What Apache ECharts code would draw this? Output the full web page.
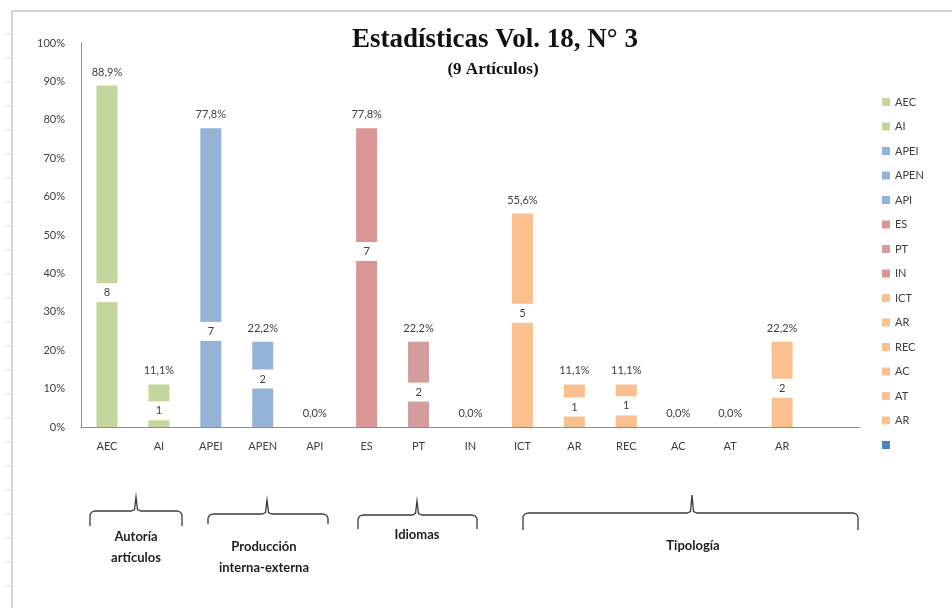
<!DOCTYPE html>
<html>
<head>
<meta charset="utf-8">
<script src="https://cdn.jsdelivr.net/npm/echarts@6/dist/echarts.min.js"></script>
<style>
  html, body { margin: 0; padding: 0; background: #fff; }
  #chart { width: 952px; height: 608px; }
</style>
</head>
<body>
<div id="chart"></div>
<script>
// categorias (la 15ª es la serie vacia de Excel)
var categories = ['AEC', 'AI', 'APEI', 'APEN', 'API', 'ES', 'PT', 'IN', 'ICT', 'AR', 'REC', 'AC', 'AT', 'AR', ''];
var percentages = [88.9, 11.1, 77.8, 22.2, 0.0, 77.8, 22.2, 0.0, 55.6, 11.1, 11.1, 0.0, 0.0, 22.2, null];
var counts = [8, 1, 7, 2, 0, 7, 2, 0, 5, 1, 1, 0, 0, 2, null];
// altura (en %) donde Excel dejo la etiqueta del numero de articulos
var countLabelAt = [35, 4.2, 24.9, 12.5, null, 45.7, 9.1, null, 29.6, 5.2, 5.5, null, null, 10.1, null];
var yTicks = [0, 10, 20, 30, 40, 50, 60, 70, 80, 90, 100];

var colors = ['#C3D69B', '#C3D69B', '#95B3D7', '#95B3D7', '#95B3D7', '#D99694', '#D59C9D', '#D99694',
              '#FAC090', '#FAC090', '#FAC090', '#FAC090', '#FAC090', '#FAC090', '#4F81BD'];

var chart = echarts.init(document.getElementById('chart'));
var txt = '#404040';
var font = 'Lato, "Open Sans", sans-serif';

// nombres unicos para la leyenda (hay dos "AR")
var names = [];
var seen = {};
for (var i = 0; i < categories.length; i++) {
  var n = categories[i] === '' ? ' ' : categories[i];
  while (seen[n]) { n = n + ' '; }
  seen[n] = true;
  names.push(n);
}

function pct(v) {
  return v.toFixed(1).replace('.', ',') + '%';
}

var series = [];
for (var i = 0; i < categories.length; i++) {
  var d = [];
  for (var j = 0; j < categories.length; j++) {
    d.push(j === i && percentages[i] !== null ? percentages[i] : '-');
  }
  series.push({
    name: names[i],
    type: 'bar',
    stack: 'all',
    barWidth: 21,
    itemStyle: { color: colors[i] },
    label: {
      show: true,
      position: 'top',
      distance: 8,
      color: txt,
      fontFamily: font,
      fontSize: 11,
      formatter: function (p) { return pct(p.value); }
    },
    data: d
  });
}

var countData = [];
for (var i = 0; i < counts.length; i++) {
  if (counts[i] > 0) countData.push({ value: [i, countLabelAt[i]], count: counts[i] });
}
series.push({
  name: 'conteo',
  type: 'scatter',
  symbolSize: 0,
  silent: true,
  z: 5,
  itemStyle: { opacity: 1 },
  label: {
    show: true,
    position: 'inside',
    color: txt,
    fontFamily: font,
    fontSize: 11,
    backgroundColor: '#ffffff',
    padding: [4, 5],
    width: 16,
    align: 'center',
    formatter: function (p) { return String(p.data.count); }
  },
  data: countData
});

// llaves de agrupacion bajo el eje
function brace(x0, x1, xc, yLine, yEnd, yPeak) {
  return {
    type: 'polyline',
    silent: true,
    shape: {
      points: [
        [x0, yEnd], [x0, yLine + 4], [x0 + 1.5, yLine + 1.2], [x0 + 5, yLine],
        [xc - 5, yLine], [xc - 1.5, yLine - 1.5], [xc, yPeak],
        [xc + 1.5, yLine - 1.5], [xc + 5, yLine],
        [x1 - 5, yLine], [x1 - 1.5, yLine + 1.2], [x1, yLine + 4], [x1, yEnd]
      ]
    },
    style: { stroke: '#3a3a3a', lineWidth: 1.3, fill: null }
  };
}
function groupText(x, y, text) {
  return {
    type: 'text',
    x: x, y: y,
    silent: true,
    style: {
      text: text, fill: '#1e1e1e', font: 'bold 13px ' + font,
      align: 'center', verticalAlign: 'top', lineHeight: 21
    }
  };
}

var frame = [
  { type: 'line', shape: { x1: 12, y1: 11, x2: 952, y2: 11 }, style: { stroke: '#d4d4d4', lineWidth: 2 } },
  { type: 'line', shape: { x1: 12, y1: 11, x2: 12, y2: 608 }, style: { stroke: '#d4d4d4', lineWidth: 2 } }
];
for (var y = 34; y < 608; y += 24) {
  frame.push({ type: 'line', shape: { x1: 5, y1: y, x2: 12, y2: y }, style: { stroke: '#dcdcdc', lineWidth: 1 } });
}
for (var x = 110; x < 952; x += 92) {
  frame.push({ type: 'line', shape: { x1: x, y1: 9, x2: x, y2: 11 }, style: { stroke: '#dcdcdc', lineWidth: 1 } });
}

chart.setOption({
  backgroundColor: '#fff',
  animation: false,
  title: [
    {
      text: 'Estadísticas Vol. 18, N° 3',
      left: 490, top: 22, textAlign: 'center',
      textStyle: { fontFamily: '"Liberation Serif", serif', fontWeight: 'bold', fontSize: 27, color: '#111' }
    },
    {
      text: '(9 Artículos)',
      left: 488, top: 56, textAlign: 'center',
      textStyle: { fontFamily: '"Liberation Serif", serif', fontWeight: 'bold', fontSize: 17, color: '#111' }
    }
  ],
  legend: {
    orient: 'vertical',
    left: 877,
    top: 90,
    itemWidth: 8,
    itemHeight: 8,
    itemGap: 10.5,
    icon: 'rect',
    selectedMode: false,
    data: names,
    textStyle: { color: txt, fontFamily: font, fontSize: 11, lineHeight: 14 }
  },
  grid: { left: 81, right: 92, top: 43, bottom: 181 },
  xAxis: {
    type: 'category',
    data: categories,
    axisTick: { show: false },
    axisLine: { lineStyle: { color: '#8c8c8c', width: 1 } },
    axisLabel: { color: txt, fontFamily: font, fontSize: 11, margin: 14, interval: 0 }
  },
  yAxis: {
    type: 'value',
    min: yTicks[0],
    max: yTicks[yTicks.length - 1],
    interval: 10,
    axisLine: { show: true, lineStyle: { color: '#8c8c8c', width: 1 } },
    axisTick: { show: false },
    splitLine: { show: false },
    axisLabel: { color: txt, fontFamily: font, fontSize: 11, margin: 16, formatter: '{value}%' }
  },
  graphic: frame.concat([
    brace(90, 182, 136, 511, 526, 497),
    brace(208, 328, 267, 514, 524, 500),
    brace(358, 477, 417, 515, 529, 501),
    brace(523, 858, 692, 513, 530, 495),
    groupText(136, 526, 'Autoría\nartículos'),
    groupText(264, 536, 'Producción\ninterna-externa'),
    groupText(417, 524, 'Idiomas'),
    groupText(693, 535, 'Tipología')
  ]),
  series: series
});
</script>
</body>
</html>
